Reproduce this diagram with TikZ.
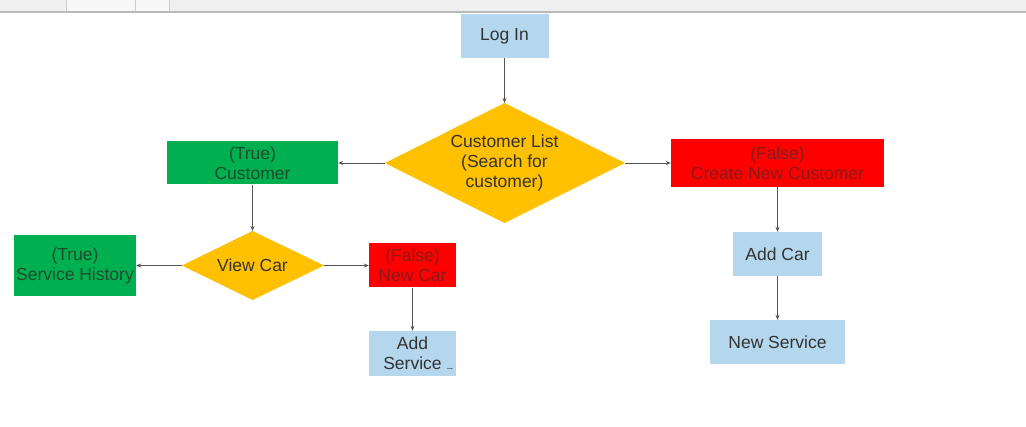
\documentclass[tikz,border=0pt]{standalone}
\usepackage{fontspec}
\setmainfont{Liberation Sans}
\usetikzlibrary{arrows.meta}
\definecolor{bluebox}{HTML}{B4D7EE}
\definecolor{yel}{HTML}{FFC000}
\definecolor{grn}{HTML}{00B050}
\definecolor{rd}{HTML}{FF0000}
\definecolor{txt}{HTML}{333333}
\definecolor{rtxt}{HTML}{8B1A1A}
\definecolor{gtxt}{HTML}{1F4D2A}
\definecolor{conn}{HTML}{555555}
\tikzset{
  lbl/.style={align=center, inner sep=0pt, font=\fontsize{17.5}{20}\selectfont},
  box/.style={rectangle, lbl},
  bluebx/.style={box, fill=bluebox, text=txt},
  greenbx/.style={box, fill=grn, text=gtxt},
  redbx/.style={box, fill=rd, text=rtxt},
  diafill/.style={fill=yel},
  diatext/.style={lbl, text=txt},
  arr/.style={draw=conn, line width=0.8pt, -{Stealth[length=5pt,width=4pt]}}
}
\begin{document}
\begin{tikzpicture}[x=1pt,y=-1pt]
\useasboundingbox (0,0) rectangle (1026,427);
\fill[white] (0,0) rectangle (1026,427);
% top toolbar fragment
\fill[gray!12] (0,0) rectangle (1026,12);
\fill[gray!6] (66,0) rectangle (135,11);
\fill[gray!6] (136,0) rectangle (169,11);
\draw[gray!40,line width=0.5pt] (66,0) -- (66,11) (135,0) -- (135,11) (169,0) -- (169,11);
\draw[gray!55,line width=1.2pt] (0,12) -- (1026,12);

\node[bluebx, minimum width=88pt, minimum height=44pt] (login) at (504.5,36) {Log In};

% Customer List diamond
\coordinate (clistN) at (504.5,103);
\coordinate (clistS) at (504.5,223);
\coordinate (clistW) at (385,163);
\coordinate (clistE) at (625,163);
\fill[diafill] (clistN) -- (clistE) -- (clistS) -- (clistW) -- cycle;
\node[diatext] (clist) at (504.5,163) {Customer List\\(Search for\\customer)};

\node[greenbx, minimum width=171pt, minimum height=43pt] (cust) at (252.5,163) {(True)\\Customer};
\node[redbx, minimum width=213pt, minimum height=48pt] (create) at (777.5,163) {(False)\\Create New Customer};

% View Car diamond
\coordinate (vcarN) at (252.5,231);
\coordinate (vcarS) at (252.5,300);
\coordinate (vcarW) at (182,265.5);
\coordinate (vcarE) at (324,265.5);
\fill[diafill] (vcarN) -- (vcarE) -- (vcarS) -- (vcarW) -- cycle;
\node[diatext] (vcar) at (252.5,265.5) {View Car};

\node[greenbx, minimum width=122pt, minimum height=61pt] (shist) at (75,265.5) {(True)\\Service History};
\node[redbx, minimum width=87pt, minimum height=44pt] (ncar) at (412.5,265.5) {(False)\\New Car};
\node[bluebx, minimum width=87pt, minimum height=45pt] (aserv) at (412.5,353.5) {Add\\Service};
\node[font=\fontsize{7}{7}\selectfont\bfseries, text=txt, inner sep=0pt] (dots) at (450,368.5) {...};
\node[bluebx, minimum width=89pt, minimum height=44pt] (acar) at (777.5,254) {Add Car};
\node[bluebx, minimum width=135pt, minimum height=44pt] (nserv) at (777.5,342) {New Service};

\draw[arr] (login.south) -- (clistN);
\draw[arr] (clistW) -- (cust.east);
\draw[arr] (clistE) -- (create.west);
\draw[arr] (cust.south) -- (vcarN);
\draw[arr] (vcarW) -- (shist.east);
\draw[arr] (vcarE) -- (ncar.west);
\draw[arr] (ncar.south) -- (aserv.north);
\draw[arr] (create.south) -- (acar.north);
\draw[arr] (acar.south) -- (nserv.north);
\end{tikzpicture}
\end{document}
